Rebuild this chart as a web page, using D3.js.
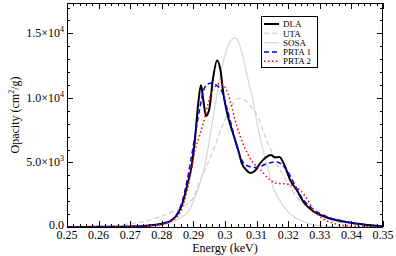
<!DOCTYPE html>
<html>
<head>
<meta charset="utf-8">
<script src="https://cdn.jsdelivr.net/npm/d3@7"></script>
<style>
  body { margin: 0; background: #fff; }
</style>
</head>
<body>
<div class="container"></div>
<script>
// energy (keV), opacity (cm^2/g)
const dla = [[0.25,0],[0.26,10],[0.27,40],[0.275,100],[0.28,250],[0.283,500],[0.285,1000],[0.2865,1800],
  [0.288,3200],[0.2895,4800],[0.2905,6800],[0.2915,9500],[0.2924,11000],[0.2932,9700],[0.294,8600],
  [0.295,9100],[0.2962,11500],[0.2975,12900],[0.2986,12100],[0.2995,10300],[0.301,8500],[0.3026,7200],
  [0.3042,5950],[0.3053,4950],[0.3068,4400],[0.308,4180],[0.3095,4350],[0.311,4900],[0.313,5400],
  [0.3145,5580],[0.3158,5400],[0.3172,5420],[0.319,4680],[0.3206,3650],[0.3227,2860],[0.3248,1960],
  [0.328,1200],[0.332,760],[0.3375,420],[0.345,160],[0.35,60]]

const uta = [[0.25,10],[0.26,40],[0.265,100],[0.27,250],[0.2763,540],[0.28,850],[0.2836,1200],[0.287,1650],
  [0.29,2300],[0.2921,3600],[0.2945,4900],[0.2963,5950],[0.298,7100],[0.2995,8000],[0.301,8900],
  [0.3027,9600],[0.3042,9950],[0.3055,9900],[0.307,9650],[0.3088,9150],[0.3105,8500],[0.312,7500],
  [0.3132,6700],[0.3148,5800],[0.3163,4930],[0.318,4200],[0.3195,3600],[0.3227,2340],[0.3259,1570],
  [0.3301,930],[0.336,380],[0.34,180],[0.345,70],[0.35,20]]

const sosa = [[0.25,0],[0.27,10],[0.275,40],[0.28,150],[0.283,350],[0.2858,700],[0.2889,1400],[0.2905,2300],
  [0.2921,3400],[0.294,5200],[0.2955,7400],[0.297,9600],[0.2985,11700],[0.3,13300],[0.3015,14300],
  [0.3032,14650],[0.3045,14200],[0.3058,13100],[0.3075,11200],[0.309,9600],[0.3105,7600],[0.312,6000],
  [0.3132,4900],[0.3153,3000],[0.3175,2000],[0.3195,1300],[0.322,750],[0.3237,540],[0.328,170],
  [0.333,50],[0.34,10],[0.35,0]]

const prta1 = [[0.25,0],[0.26,10],[0.27,40],[0.275,100],[0.28,270],[0.283,550],[0.285,1100],[0.2865,2000],
  [0.288,3600],[0.2895,5600],[0.291,7800],[0.2921,9300],[0.2931,10500],[0.2947,11100],[0.296,11150],
  [0.2974,10950],[0.299,10500],[0.3005,9300],[0.3021,7800],[0.3037,6250],[0.3053,5200],[0.3074,4700],
  [0.31,4600],[0.3132,4900],[0.316,5050],[0.3174,4950],[0.3195,4420],[0.3216,3500],[0.3237,2500],
  [0.3269,1580],[0.331,930],[0.3375,450],[0.345,160],[0.35,60]]

const prta2 = [[0.25,0],[0.26,10],[0.27,40],[0.275,90],[0.28,220],[0.283,450],[0.285,850],[0.2865,1500],
  [0.288,2800],[0.2895,4600],[0.2905,5900],[0.2916,6800],[0.2931,8000],[0.2947,9600],[0.2963,10700],
  [0.2984,11100],[0.3,10850],[0.3016,9800],[0.3032,8300],[0.3047,7100],[0.3069,5800],[0.3085,5100],
  [0.311,4500],[0.3142,3650],[0.3163,3380],[0.3195,3330],[0.322,3120],[0.3237,2860],[0.3259,2200],
  [0.328,1320],[0.3301,800],[0.3343,290],[0.34,60],[0.345,15],[0.35,5]]

const seriesNames = ['DLA', 'UTA', 'SOSA', 'PRTA 1', 'PRTA 2']
const xTicks = [0.25, 0.26, 0.27, 0.28, 0.29, 0.3, 0.31, 0.32, 0.33, 0.34, 0.35]
const xTickLabels = ['0.25', '0.26', '0.27', '0.28', '0.29', '0.3', '0.31', '0.32', '0.33', '0.34', '0.35']
const yTicks = [0, 5000, 10000, 15000]
const yTickMant = ['0.0', '5.0×10', '1.0×10', '1.5×10']
const yTickExp = ['', '3', '4', '4']

const w = 396
const h = 256
const pLeft = 67, pRight = 383, pTop = 3, pBottom = 227
const serif = "'Liberation Serif', 'Times New Roman', Times, serif"

const svg = d3.select('.container')
  .append('svg')
  .attr('width', w)
  .attr('height', h)
  .attr('font-family', serif)

const x = d3.scaleLinear().domain([0.25, 0.35]).range([pLeft, pRight])
const y = d3.scaleLinear().domain([0, 17350]).range([pBottom, pTop])

svg.append('clipPath').attr('id', 'clip')
  .append('rect')
  .attr('x', pLeft).attr('y', pTop)
  .attr('width', pRight - pLeft).attr('height', pBottom - pTop)

const styles = [
  { color: '#000000', width: 2, dash: null },
  { color: '#d6d6d6', width: 1.5, dash: '5,3' },
  { color: '#d6d6d6', width: 1.2, dash: null },
  { color: '#0000ff', width: 1.5, dash: '5,3' },
  { color: '#ff0000', width: 1.5, dash: '1.5,2.5' }
]

const line = d3.line()
  .x(d => x(d[0]))
  .y(d => y(d[1]))
  .curve(d3.curveMonotoneX)

const plot = svg.append('g').attr('clip-path', 'url(#clip)')
const allSeries = [dla, uta, sosa, prta1, prta2]
// grey theory curves first so the others stay on top
;[2, 1, 0, 3, 4].forEach(i => {
  plot.append('path')
    .datum(allSeries[i])
    .attr('d', line)
    .attr('fill', 'none')
    .attr('stroke', styles[i].color)
    .attr('stroke-width', styles[i].width)
    .attr('stroke-dasharray', styles[i].dash)
})

// ticks inward on all four sides
const xMinor = d3.range(0.25, 0.3501, 0.002)
const yMinor = d3.range(0, 17001, 1000)

const axes = svg.append('g').attr('stroke', '#000').attr('stroke-width', 1)
const tickLen = (v, majors) => majors.some(m => Math.abs(m - v) < 1e-6) ? 6 : 3

xMinor.forEach(v => {
  const len = tickLen(v, xTicks)
  const px = Math.round(x(v)) + 0.5
  axes.append('line').attr('x1', px).attr('x2', px).attr('y1', pBottom).attr('y2', pBottom - len)
  axes.append('line').attr('x1', px).attr('x2', px).attr('y1', pTop).attr('y2', pTop + len)
})
yMinor.forEach(v => {
  const len = tickLen(v, yTicks)
  const py = Math.round(y(v)) + 0.5
  axes.append('line').attr('y1', py).attr('y2', py).attr('x1', pLeft).attr('x2', pLeft + len)
  axes.append('line').attr('y1', py).attr('y2', py).attr('x1', pRight).attr('x2', pRight - len)
})

svg.append('rect')
  .attr('x', pLeft + 0.5).attr('y', pTop + 0.5)
  .attr('width', pRight - pLeft - 1).attr('height', pBottom - pTop)
  .attr('fill', 'none').attr('stroke', '#000').attr('stroke-width', 1)

svg.selectAll('.xlab')
  .data(xTicks)
  .enter()
  .append('text')
  .attr('class', 'xlab')
  .attr('x', d => x(d))
  .attr('y', pBottom + 12)
  .attr('text-anchor', 'middle')
  .attr('font-size', 12)
  .text((d, i) => xTickLabels[i])

yTicks.forEach((v, i) => {
  const t = svg.append('text')
    .attr('x', pLeft - 3)
    .attr('y', y(v) + (i === 0 ? 2 : 4))
    .attr('text-anchor', 'end')
    .attr('font-size', 12)
  t.append('tspan').text(yTickMant[i])
  if (yTickExp[i]) {
    t.append('tspan').attr('dy', -5).attr('font-size', 8).text(yTickExp[i])
  }
})

svg.append('text')
  .attr('x', (pLeft + pRight) / 2)
  .attr('y', 252)
  .attr('text-anchor', 'middle')
  .attr('font-size', 12)
  .text('Energy (keV)')

const yt = svg.append('text')
  .attr('transform', `translate(19, ${(pTop + pBottom) / 2}) rotate(-90)`)
  .attr('text-anchor', 'middle')
  .attr('font-size', 12)
yt.append('tspan').text('Opacity (cm')
yt.append('tspan').attr('dy', -5).attr('font-size', 8).text('2')
yt.append('tspan').attr('dy', 5).text('/g)')

// legend
const legend = svg.append('g')
legend.append('rect')
  .attr('x', 261.5).attr('y', 16.5)
  .attr('width', 56).attr('height', 51)
  .attr('fill', '#fff').attr('stroke', '#000').attr('stroke-width', 1)

seriesNames.forEach((name, i) => {
  const ly = 24 + i * 9.3
  legend.append('line')
    .attr('x1', 264).attr('x2', 279)
    .attr('y1', ly).attr('y2', ly)
    .attr('stroke', styles[i].color)
    .attr('stroke-width', styles[i].width)
    .attr('stroke-dasharray', styles[i].dash)
  legend.append('text')
    .attr('x', 283)
    .attr('y', ly + 3.2)
    .attr('font-size', 9)
    .text(name)
})
</script>
</body>
</html>
